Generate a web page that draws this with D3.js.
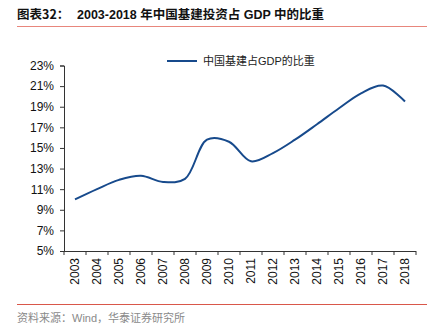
<!DOCTYPE html>
<html>
<head>
<meta charset="utf-8">
<script src="https://cdn.jsdelivr.net/npm/d3@7"></script>
<style>
  html, body { margin: 0; padding: 0; background: #fff; }
  svg { display: block; }
</style>
</head>
<body>
<svg id="chart" width="435" height="330"></svg>
<script>
// Infrastructure investment as a share of GDP, 2003-2018
const years = ["2003","2004","2005","2006","2007","2008","2009","2010","2011","2012","2013","2014","2015","2016","2017","2018"];
const shareOfGdp = [10.0, 11.0, 11.9, 12.3, 11.7, 12.0, 15.8, 15.6, 13.7, 14.5, 15.8, 17.3, 18.85, 20.3, 21.05, 19.5];
const yTicks = [5, 7, 9, 11, 13, 15, 17, 19, 21, 23];
const seriesName = "中国基建占GDP的比重";

const svg = d3.select("#chart");
const font = "'Liberation Sans', Arial, 'Noto Sans CJK SC', sans-serif";
const cjk = "'Noto Sans CJK SC', sans-serif";

// Header
svg.append("text")
  .attr("x", 17).attr("y", 19)
  .attr("font-family", cjk).attr("font-size", 12.5).attr("font-weight", "bold")
  .attr("fill", "#111")
  .text("图表32：");
svg.append("text")
  .attr("x", 77).attr("y", 19)
  .attr("font-family", font).attr("font-size", 12.5).attr("font-weight", "bold")
  .attr("fill", "#111")
  .text("2003-2018 年中国基建投资占 GDP 中的比重");
svg.append("line")
  .attr("x1", 17).attr("x2", 427).attr("y1", 26.5).attr("y2", 26.5)
  .attr("stroke", "#e8867c").attr("stroke-width", 1.2);

// Footer
svg.append("line")
  .attr("x1", 17).attr("x2", 427).attr("y1", 304.5).attr("y2", 304.5)
  .attr("stroke", "#d9574a").attr("stroke-width", 1);
svg.append("text")
  .attr("x", 17).attr("y", 322)
  .attr("font-family", font).attr("font-size", 11)
  .attr("fill", "#8a8a8a")
  .text("资料来源：Wind，华泰证券研究所");

// Plot area
const plotLeft = 64, plotRight = 416, plotTop = 65.5, plotBottom = 251;

const x = d3.scaleBand().domain(years).range([plotLeft, plotRight]);
const y = d3.scaleLinear().domain([5, 23]).range([plotBottom, plotTop]);

const yAxis = svg.append("g")
  .attr("transform", `translate(${plotLeft},0)`)
  .call(d3.axisLeft(y).tickValues(yTicks).tickFormat(d => d + "%").tickSize(4).tickPadding(6));
yAxis.selectAll("text").attr("font-family", font).attr("font-size", 12).attr("fill", "#111");
yAxis.selectAll("line, path").attr("stroke", "#333");

const xAxis = svg.append("g")
  .attr("transform", `translate(0,${plotBottom})`)
  .call(d3.axisBottom(x).tickSize(0).tickSizeOuter(0));
xAxis.select(".domain").attr("stroke", "#333").attr("d", `M${plotLeft - 4},0.5H${plotRight}`);
xAxis.selectAll(".tick text")
  .attr("font-family", font).attr("font-size", 12).attr("fill", "#111")
  .attr("transform", "rotate(-90)")
  .attr("text-anchor", "end")
  .attr("x", -7).attr("y", 0).attr("dy", "0.35em");

// category separators on the x axis
svg.append("g").selectAll("line")
  .data(years.concat(["end"]))
  .join("line")
  .attr("x1", (d, i) => plotLeft + i * x.step())
  .attr("x2", (d, i) => plotLeft + i * x.step())
  .attr("y1", plotBottom).attr("y2", plotBottom + 4)
  .attr("stroke", "#333");

// Series line
const line = d3.line()
  .x((d, i) => x(years[i]) + x.bandwidth() / 2)
  .y(d => y(d))
  .curve(d3.curveCatmullRom.alpha(0.5));

svg.append("path")
  .datum(shareOfGdp)
  .attr("d", line)
  .attr("fill", "none")
  .attr("stroke", "#174a8c")
  .attr("stroke-width", 2);

// Legend
svg.append("line")
  .attr("x1", 167).attr("x2", 197).attr("y1", 61).attr("y2", 61)
  .attr("stroke", "#174a8c").attr("stroke-width", 2);
svg.append("text")
  .attr("x", 203).attr("y", 65)
  .attr("font-family", font).attr("font-size", 11)
  .attr("fill", "#222")
  .text(seriesName);
</script>
</body>
</html>
